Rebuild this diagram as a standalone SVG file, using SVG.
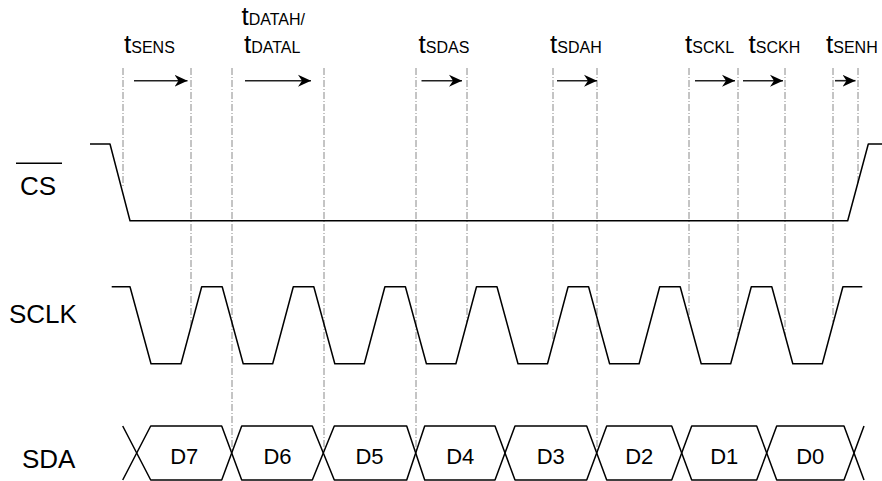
<svg xmlns="http://www.w3.org/2000/svg" width="882" height="481" viewBox="0 0 882 481">
<style>
  .lbl{font-family:"Liberation Sans",Arial,sans-serif;font-size:26px;fill:#000}
  .dl{font-family:"Liberation Sans",Arial,sans-serif;font-size:22px;fill:#000;text-anchor:middle}
  .t{font-family:"Liberation Sans",Arial,sans-serif;font-size:26px;fill:#000}
  .sub{font-size:16px}
  .wave{fill:none;stroke:#000;stroke-width:1.5;stroke-linejoin:round}
  .guide{stroke:#8a8a8a;stroke-width:1;stroke-dasharray:7,2,1,2;fill:none}
  .arr{stroke:#222;stroke-width:1.6;fill:none;marker-end:url(#ah)}
</style>
<defs>
  <marker id="ah" markerWidth="14" markerHeight="14" refX="13" refY="7" orient="auto" markerUnits="userSpaceOnUse">
    <path d="M13,7 L0,1 L4,7 L0,13 Z" fill="#000"/>
  </marker>
</defs>
<rect width="882" height="481" fill="#fff"/>

<g id="connectors">
  <line class="guide" x1="123" y1="68" x2="123" y2="186"/>
  <line class="guide" x1="191" y1="68" x2="191" y2="326"/>
  <line class="guide" x1="232" y1="68" x2="232" y2="451"/>
  <line class="guide" x1="324" y1="68" x2="324" y2="451"/>
  <line class="guide" x1="416" y1="68" x2="416" y2="451"/>
  <line class="guide" x1="467" y1="68" x2="467" y2="322"/>
  <line class="guide" x1="553" y1="68" x2="553" y2="340"/>
  <line class="guide" x1="597" y1="68" x2="597" y2="451"/>
  <line class="guide" x1="689" y1="68" x2="689" y2="320"/>
  <line class="guide" x1="738" y1="68" x2="738" y2="335"/>
  <line class="guide" x1="785" y1="68" x2="785" y2="335"/>
  <line class="guide" x1="833" y1="68" x2="833" y2="322"/>
  <line class="guide" x1="858" y1="68" x2="858" y2="183"/>

  <line class="arr" x1="134" y1="80.7" x2="187.5" y2="80.7"/>
  <line class="arr" x1="245" y1="80.7" x2="311" y2="80.7"/>
  <line class="arr" x1="421.5" y1="80.7" x2="462" y2="80.7"/>
  <line class="arr" x1="557" y1="80.7" x2="597" y2="80.7"/>
  <line class="arr" x1="695" y1="80.7" x2="735" y2="80.7"/>
  <line class="arr" x1="743" y1="80.7" x2="783" y2="80.7"/>
  <line class="arr" x1="835" y1="80.7" x2="855.5" y2="80.7"/>
</g>

<g id="timing-labels">
  <text class="t" x="124" y="52.7">t<tspan class="sub">SENS</tspan></text>
  <text class="t" x="241.5" y="25">t<tspan class="sub">DATAH/</tspan></text>
  <text class="t" x="244" y="53.3">t<tspan class="sub">DATAL</tspan></text>
  <text class="t" x="418.5" y="52.7">t<tspan class="sub">SDAS</tspan></text>
  <text class="t" x="550" y="52.7">t<tspan class="sub">SDAH</tspan></text>
  <text class="t" x="685" y="52.7">t<tspan class="sub">SCKL</tspan></text>
  <text class="t" x="748.5" y="52.7">t<tspan class="sub">SCKH</tspan></text>
  <text class="t" x="826" y="52.7">t<tspan class="sub">SENH</tspan></text>
</g>

<g id="cs">
  <line x1="16" y1="163.3" x2="62" y2="163.3" stroke="#000" stroke-width="1.5"/>
  <text class="lbl" x="20" y="195">CS</text>
  <path class="wave" d="M90,144 H110 L130,220.7 H847.7 L868.3,144 H882"/>
</g>

<g id="sclk">
  <text class="lbl" x="9" y="322.7">SCLK</text>
  <path class="wave" d="M111.7,286.7 H130 L151,363.7 H181 L201.7,286.7 H222.2 L243.2,363.7 H272.7 L293.3,286.7 H313.8 L334.8,363.7 H364.3 L384.9,286.7 H405.4 L426.4,363.7 H455.9 L476.5,286.7 H497 L518,363.7 H547.5 L568.1,286.7 H588.6 L609.6,363.7 H639.1 L659.7,286.7 H680.2 L701.2,363.7 H730.7 L751.3,286.7 H771.8 L792.8,363.7 H822.3 L842.9,286.7 H862.3"/>
</g>

<g id="sda">
  <text class="lbl" x="22" y="468.3">SDA</text>
  <path class="wave" d="M122.7,426 L136.7,453 L122.7,480"/>
  <path class="wave" d="M136.7,453 L150.7,426 H221.7 L231.7,453 L221.7,480 H150.7 Z"/>
  <path class="wave" d="M231.7,453 L241.7,426 H312.3 L323.3,453 L312.3,480 H241.7 Z"/>
  <path class="wave" d="M323.3,453 L334.3,426 H406.7 L415.7,453 L406.7,480 H334.3 Z"/>
  <path class="wave" d="M415.7,453 L424.7,426 H495 L505,453 L495,480 H424.7 Z"/>
  <path class="wave" d="M505,453 L515,426 H586.7 L596.7,453 L586.7,480 H515 Z"/>
  <path class="wave" d="M596.7,453 L606.7,426 H671.7 L681.7,453 L671.7,480 H606.7 Z"/>
  <path class="wave" d="M681.7,453 L691.7,426 H756.7 L766.7,453 L756.7,480 H691.7 Z"/>
  <path class="wave" d="M766.7,453 L776.7,426 H844 L854,453 L844,480 H776.7 Z"/>
  <path class="wave" d="M854,453 L864,426 M854,453 L864,480"/>
  <text class="dl" x="184.2" y="463.5">D7</text>
  <text class="dl" x="277.5" y="463.5">D6</text>
  <text class="dl" x="369.5" y="463.5">D5</text>
  <text class="dl" x="460.3" y="463.5">D4</text>
  <text class="dl" x="550.8" y="463.5">D3</text>
  <text class="dl" x="639.2" y="463.5">D2</text>
  <text class="dl" x="724.2" y="463.5">D1</text>
  <text class="dl" x="810.3" y="463.5">D0</text>
</g>
</svg>
